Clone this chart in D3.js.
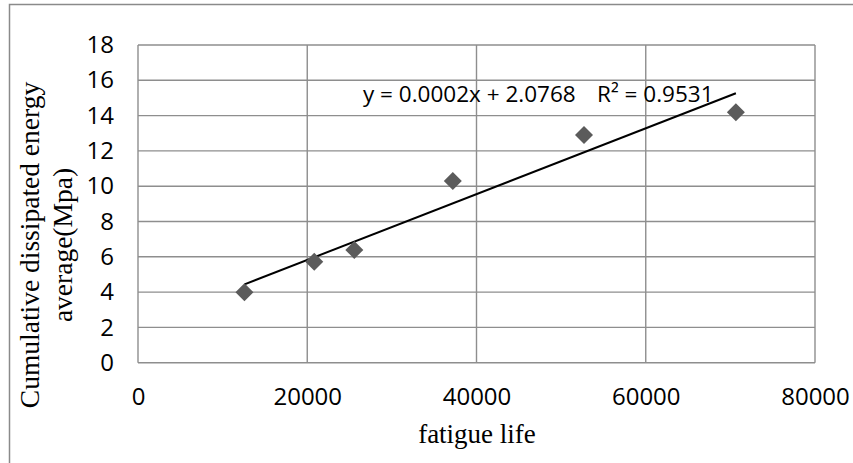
<!DOCTYPE html>
<html>
<head>
<meta charset="utf-8">
<script src="https://cdn.jsdelivr.net/npm/d3@7"></script>
<style>
  html, body { margin: 0; padding: 0; background: #fff; }
  svg { display: block; }
</style>
</head>
<body>
<svg id="chart" width="853" height="463"></svg>
<script>
// ---- data ----
const fatigueLife = [12580, 20830, 25560, 37200, 52700, 70650];
const energyAvg   = [3.99, 5.72, 6.39, 10.29, 12.90, 14.19];
const xTicks = [0, 20000, 40000, 60000, 80000];
const yTicks = [0, 2, 4, 6, 8, 10, 12, 14, 16, 18];
const equationText = "y = 0.0002x + 2.0768";
const r2Text = "R\u00B2 = 0.9531";
const xTitle = "fatigue life";
const yTitleLines = ["Cumulative dissipated energy", "average(Mpa)"];

// ---- layout ----
const svg = d3.select("#chart");
const W = 853, H = 463;
const plot = { left: 138, top: 45, right: 815, bottom: 362.7 };
const gridColor = "#8e8e8e";
const tickFont = "'Open Sans', sans-serif";
const serifFont = "'Liberation Serif', 'Times New Roman', serif";

const x = d3.scaleLinear().domain([0, 80000]).range([plot.left, plot.right]);
const y = d3.scaleLinear().domain([0, 18]).range([plot.bottom, plot.top]);

// outer chart border (only top and left visible in the crop)
svg.append("path")
  .attr("d", `M9.5,${H + 5} L9.5,4.5 L${W + 5},4.5`)
  .attr("fill", "none").attr("stroke", "#8a8a8a").attr("stroke-width", 1.5);

// gridlines
const g = svg.append("g");
g.selectAll("line.h").data(yTicks).join("line")
  .attr("x1", plot.left).attr("x2", plot.right)
  .attr("y1", d => y(d)).attr("y2", d => y(d))
  .attr("stroke", gridColor).attr("stroke-width", 1.4);
g.selectAll("line.v").data(xTicks).join("line")
  .attr("y1", plot.top).attr("y2", plot.bottom)
  .attr("x1", d => x(d)).attr("x2", d => x(d))
  .attr("stroke", gridColor).attr("stroke-width", 1.4);

// axes labels via d3 axes (no domain/tick lines)
const yAxis = svg.append("g").attr("transform", `translate(${plot.left},0)`)
  .call(d3.axisLeft(y).tickValues(yTicks).tickSize(0).tickPadding(24).tickFormat(d3.format("d")));
const xAxis = svg.append("g").attr("transform", `translate(0,${plot.bottom})`)
  .call(d3.axisBottom(x).tickValues(xTicks).tickSize(0).tickPadding(25).tickFormat(d3.format("d")));
[yAxis, xAxis].forEach(a => {
  a.select(".domain").remove();
  a.selectAll("text").attr("font-family", tickFont).attr("font-size", 24).attr("fill", "#000");
});

// trendline (least squares from the data)
const n = fatigueLife.length;
const mx = d3.mean(fatigueLife), my = d3.mean(energyAvg);
let sxy = 0, sxx = 0;
for (let i = 0; i < n; i++) {
  sxy += (fatigueLife[i] - mx) * (energyAvg[i] - my);
  sxx += (fatigueLife[i] - mx) ** 2;
}
const slope = sxy / sxx, intercept = my - slope * mx;
const xr = d3.extent(fatigueLife);
svg.append("path")
  .datum(xr.map(v => [v, intercept + slope * v]))
  .attr("d", d3.line().x(d => x(d[0])).y(d => y(d[1])))
  .attr("fill", "none").attr("stroke", "#000").attr("stroke-width", 2);

// markers (diamonds)
const r = 9;
svg.selectAll("path.pt").data(fatigueLife.map((v, i) => [v, energyAvg[i]])).join("path")
  .attr("class", "pt")
  .attr("d", d => {
    const cx = x(d[0]), cy = y(d[1]);
    return `M${cx},${cy - r}L${cx + r},${cy}L${cx},${cy + r}L${cx - r},${cy}Z`;
  })
  .attr("fill", "#5b5b5b");

// equation label
svg.append("text").attr("x", 363).attr("y", 102)
  .attr("font-family", tickFont).attr("font-size", 22.5).attr("fill", "#000")
  .text(equationText);
svg.append("text").attr("x", 597).attr("y", 102)
  .attr("font-family", tickFont).attr("font-size", 22.5).attr("fill", "#000")
  .text(r2Text);

// axis titles
svg.append("text").attr("x", 477).attr("y", 443)
  .attr("text-anchor", "middle")
  .attr("font-family", serifFont).attr("font-size", 27).attr("fill", "#000")
  .text(xTitle);
const yTitleX = [39, 72];
yTitleLines.forEach((t, i) => {
  svg.append("text")
    .attr("transform", `translate(${yTitleX[i]},245) rotate(-90)`)
    .attr("text-anchor", "middle")
    .attr("font-family", serifFont).attr("font-size", 27.5).attr("fill", "#000")
    .text(t);
});
</script>
</body>
</html>
